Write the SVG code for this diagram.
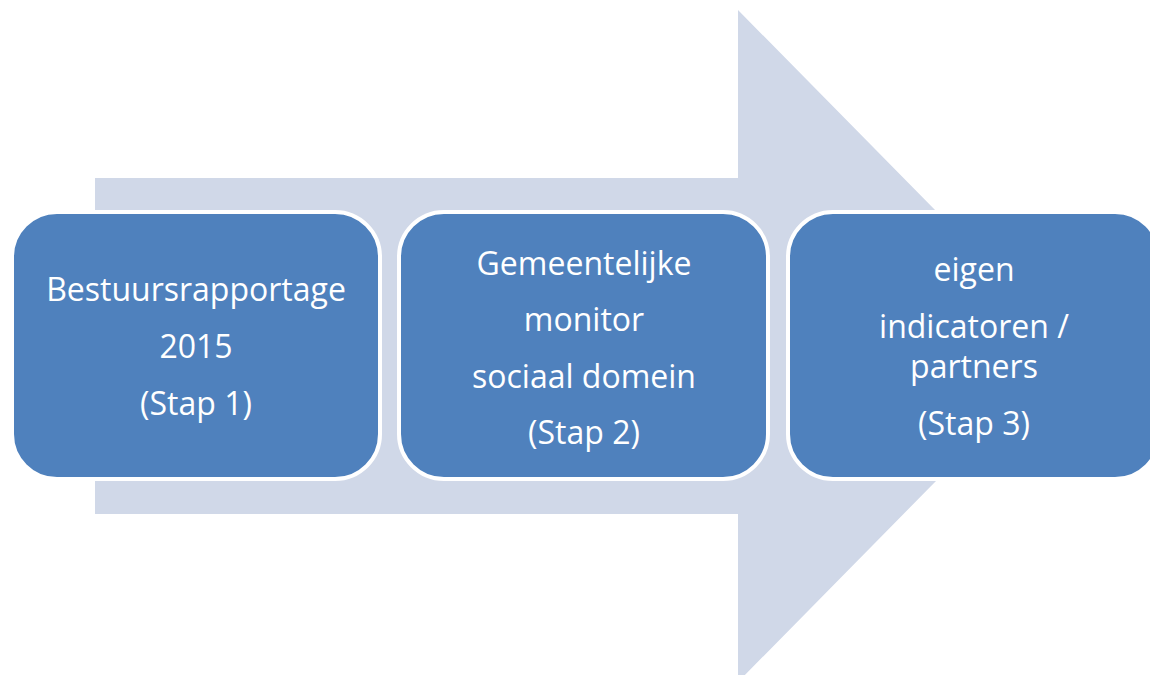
<svg xmlns="http://www.w3.org/2000/svg" width="1150" height="675" viewBox="0 0 1150 675">
<style>
.box{fill:#4F81BD;stroke:#FFFFFF;stroke-width:4}
.t{font-family:"Open Sans","Liberation Sans",sans-serif;font-size:32px;fill:#FFFFFF;text-anchor:middle}
</style>
<rect width="1150" height="675" fill="#FFFFFF"/>
<g id="arrow">
<polygon points="95,178 738,178 738,10 1069,346 738,682 738,514 95,514" fill="#D0D8E8"/>
</g>
<g id="node1">
<rect class="box" x="12" y="212" width="368" height="267" rx="45" ry="45"/>
<text class="t" x="196" y="301">Bestuursrapportage</text>
<text class="t" x="196" y="358">2015</text>
<text class="t" x="196" y="415">(Stap 1)</text>
</g>
<g id="node2">
<rect class="box" x="399" y="212" width="369" height="267" rx="45" ry="45"/>
<text class="t" x="584" y="275">Gemeentelijke</text>
<text class="t" x="584" y="331">monitor</text>
<text class="t" x="584" y="388">sociaal domein</text>
<text class="t" x="584" y="444">(Stap 2)</text>
</g>
<g id="node3">
<rect class="box" x="788" y="212" width="372" height="267" rx="45" ry="45"/>
<text class="t" x="974" y="281">eigen</text>
<text class="t" x="974" y="338">indicatoren /</text>
<text class="t" x="974" y="378">partners</text>
<text class="t" x="974" y="435">(Stap 3)</text>
</g>
<g id="connectors"></g>
</svg>
